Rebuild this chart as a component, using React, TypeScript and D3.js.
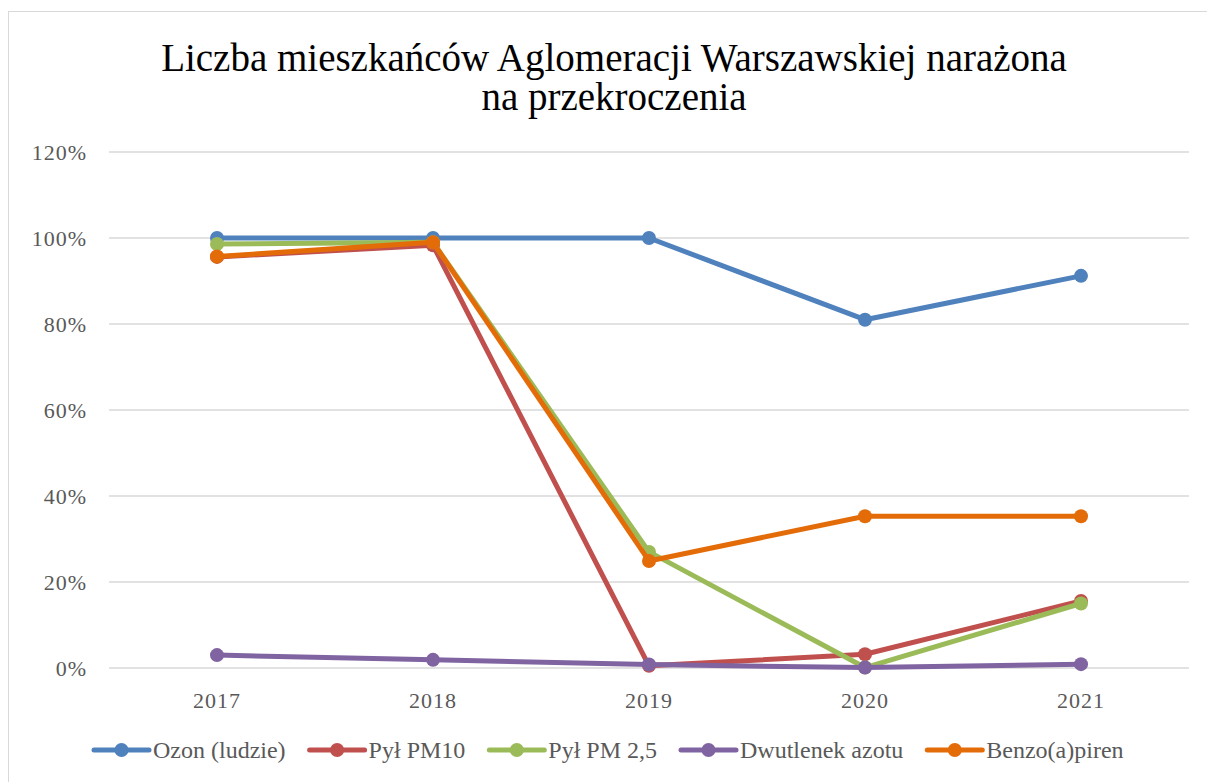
import { useEffect, useRef } from 'react';
import * as d3 from 'd3';

const years = ['2017', '2018', '2019', '2020', '2021'];
const yTicks = [0, 20, 40, 60, 80, 100, 120];

const seriesNames = ['Ozon (ludzie)', 'Pył PM10', 'Pył PM 2,5', 'Dwutlenek azotu', 'Benzo(a)piren'];
const seriesColors = ['#4f81bd', '#c0504d', '#9bbb59', '#8064a2', '#e36c09'];

const ozon = [100, 100, 100, 81, 91.2];
const pm10 = [95.6, 98.3, 0.5, 3.2, 15.6];
const pm25 = [98.6, 99.0, 27.0, 0.1, 15.0];
const no2 = [3.0, 1.9, 0.8, 0.1, 0.9];
const benzo = [95.7, 99.0, 24.9, 35.3, 35.3];

const seriesValues = [ozon, pm10, pm25, no2, benzo];

const App = () => {
  const chartRef = useRef<SVGSVGElement>(null);

  useEffect(() => {
    const width = 1207, height = 782;
    const svg = d3.select(chartRef.current);
    svg.selectAll('*').remove();
    const font = "'Liberation Serif', 'DejaVu Serif', serif";

    // frame
    svg.append('rect')
      .attr('x', 8.5).attr('y', 11.5)
      .attr('width', width + 20).attr('height', height + 20)
      .attr('fill', '#fff').attr('stroke', '#d9d9d9');

    // title
    const title = svg.append('text')
      .attr('text-anchor', 'middle')
      .attr('font-family', font)
      .attr('font-size', 39)
      .attr('fill', '#000');
    title.append('tspan').attr('x', 614).attr('y', 71).text('Liczba mieszkańców Aglomeracji Warszawskiej narażona');
    title.append('tspan').attr('x', 614).attr('y', 110).text('na przekroczenia');

    const x = d3.scaleBand().domain(years).range([109, 1189]);
    const y = d3.scaleLinear().domain([0, 120]).range([668, 152]);

    // gridlines
    svg.append('g')
      .selectAll('line')
      .data(yTicks)
      .enter()
      .append('line')
      .attr('x1', 109).attr('x2', 1189)
      .attr('y1', (d) => y(d)).attr('y2', (d) => y(d))
      .attr('stroke', '#d9d9d9').attr('stroke-width', 1.5);

    // y labels
    svg.append('g')
      .selectAll('text')
      .data(yTicks)
      .enter()
      .append('text')
      .attr('x', 87)
      .attr('y', (d) => y(d) + 8)
      .attr('text-anchor', 'end')
      .attr('font-family', font)
      .attr('font-size', 22)
      .attr('letter-spacing', 1)
      .attr('fill', '#595959')
      .text((d) => d + '%');

    // x labels
    svg.append('g')
      .selectAll('text')
      .data(years)
      .enter()
      .append('text')
      .attr('x', (d) => x(d)! + x.bandwidth() / 2)
      .attr('y', 708)
      .attr('text-anchor', 'middle')
      .attr('font-family', font)
      .attr('font-size', 22)
      .attr('letter-spacing', 1)
      .attr('fill', '#595959')
      .text((d) => d);

    const line = d3.line<number>()
      .x((d, i) => x(years[i])! + x.bandwidth() / 2)
      .y((d) => y(d));

    // draw series
    seriesValues.forEach((vals, si) => {
      const g = svg.append('g');
      g.append('path')
        .datum(vals)
        .attr('d', line)
        .attr('fill', 'none')
        .attr('stroke', seriesColors[si])
        .attr('stroke-width', 5)
        .attr('stroke-linejoin', 'round')
        .attr('stroke-linecap', 'round');
      g.selectAll('circle')
        .data(vals)
        .enter()
        .append('circle')
        .attr('cx', (d, i) => x(years[i])! + x.bandwidth() / 2)
        .attr('cy', (d) => y(d))
        .attr('r', 7)
        .attr('fill', seriesColors[si]);
    });

    // legend
    const legend = svg.append('g');
    let lx = 94;
    seriesNames.forEach((name, si) => {
      const item = legend.append('g');
      item.append('line')
        .attr('x1', lx).attr('x2', lx + 55)
        .attr('y1', 750).attr('y2', 750)
        .attr('stroke', seriesColors[si])
        .attr('stroke-width', 5)
        .attr('stroke-linecap', 'round');
      item.append('circle')
        .attr('cx', lx + 27.5).attr('cy', 750).attr('r', 7)
        .attr('fill', seriesColors[si]);
      const t = item.append('text')
        .attr('x', lx + 59)
        .attr('y', 758)
        .attr('font-family', font)
        .attr('font-size', 24)
        .attr('fill', '#595959')
        .text(name);
      const w = (t.node() as SVGTextElement).getComputedTextLength();
      lx += 59 + w + 24;
    });

    return () => {
      d3.select(chartRef.current).selectAll('*').remove();
    };
  }, []);

  return (
    <div style={{ position: 'absolute', left: 0, top: 0 }}>
      <svg ref={chartRef} width={1207} height={782} style={{ display: 'block' }}></svg>
    </div>
  );
};

export default App;
